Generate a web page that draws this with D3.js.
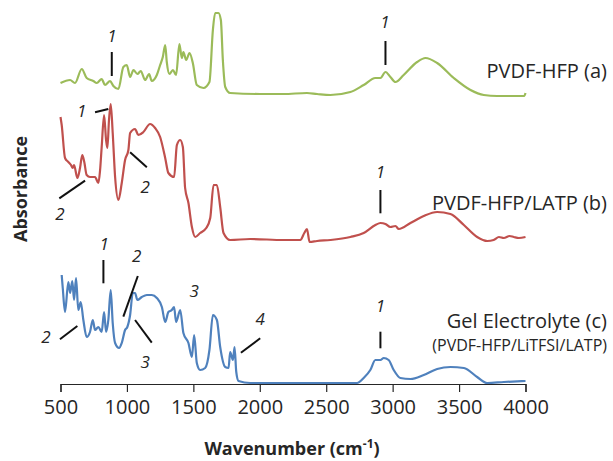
<!DOCTYPE html>
<html>
<head>
<meta charset="utf-8">
<script src="https://cdn.jsdelivr.net/npm/d3@7"></script>
<style>
  body { margin: 0; background: #fff; }
  text { font-family: "Open Sans", sans-serif; fill: #262626; }
</style>
</head>
<body>
<div id="chart"></div>
<script>
// wavenumber (cm-1) and absorbance (relative to each trace's own baseline)
var wnA = [500,572,609,660,697,747,773,810,835,873,898,936,973,999,1024,1049,1079,1104,1137,1167,1187,1225,1250,1270,1288,1300,1320,1346,1370,1395,1413,1425,1446,1471,1496,1526,1576,1621,1647,1664,1689,1707,1722,1740,1777,2000,2179,2355,2431,2531,2682,2782,2870,2908,2946,2983,3021,3083,3184,3247,3335,3460,3586,3686,3787,3990,4000];
var absA = [0.13,0.16,0.13,0.27,0.18,0.15,0.13,0.17,0.11,0.15,0.10,0.07,0.29,0.31,0.19,0.26,0.22,0.25,0.16,0.22,0.15,0.21,0.31,0.39,0.51,0.34,0.22,0.26,0.21,0.52,0.38,0.44,0.36,0.43,0.33,0.11,0.08,0.14,0.66,0.83,0.83,0.76,0.36,0.09,0.03,0.02,0.02,0.03,0.02,0.01,0.04,0.11,0.18,0.18,0.24,0.19,0.14,0.21,0.34,0.38,0.33,0.18,0.06,0.01,0.00,0.00,0.03];

var wnB = [500,509,534,559,579,592,602,627,647,664,679,697,722,760,785,798,810,828,843,853,865,878,893,911,936,961,986,1011,1024,1061,1086,1124,1174,1212,1250,1288,1312,1355,1376,1401,1421,1438,1463,1489,1514,1551,1597,1627,1652,1677,1702,1727,1777,1928,2179,2305,2335,2355,2375,2431,2531,2682,2782,2870,2908,2946,2983,3021,3046,3134,3234,3335,3435,3536,3636,3712,3760,3800,3837,3880,3912,3950,4000];
var absB = [1.23,1.15,0.82,0.78,0.75,0.72,0.75,0.62,0.72,0.85,0.78,0.65,0.63,0.63,0.57,0.70,0.93,1.25,1.00,0.92,1.20,1.36,1.07,0.63,0.40,0.57,0.80,0.90,1.07,1.11,1.05,1.08,1.16,1.12,1.03,0.82,0.67,0.63,0.95,1.00,0.93,0.52,0.37,0.13,0.03,0.07,0.12,0.22,0.55,0.55,0.33,0.07,0.00,0.01,0.00,0.00,0.07,0.11,-0.02,-0.01,0.00,0.03,0.07,0.15,0.17,0.16,0.13,0.14,0.11,0.17,0.24,0.28,0.26,0.15,0.03,-0.01,0.00,0.03,0.02,0.04,0.03,0.02,0.03];

var wnC = [509,517,534,559,572,589,602,617,634,652,672,697,722,743,760,785,810,828,843,860,878,893,911,941,961,986,1003,1024,1044,1061,1079,1112,1150,1187,1225,1263,1288,1312,1338,1355,1370,1401,1425,1463,1489,1506,1526,1551,1589,1621,1647,1677,1702,1740,1765,1777,1798,1810,1823,1840,1928,2179,2431,2732,2782,2832,2870,2908,2933,2970,3008,3058,3134,3234,3335,3435,3536,3636,3712,3837,4000];
var absC = [1.09,0.96,0.72,1.02,0.91,1.03,0.84,1.06,0.74,0.82,0.64,0.47,0.52,0.64,0.54,0.57,0.52,0.72,0.52,0.64,0.94,0.61,0.41,0.36,0.41,0.54,0.57,0.69,0.91,0.91,0.84,0.87,0.89,0.89,0.86,0.77,0.62,0.72,0.74,0.77,0.62,0.74,0.51,0.41,0.27,0.49,0.21,0.14,0.16,0.34,0.69,0.64,0.37,0.17,0.16,0.32,0.24,0.37,0.12,0.03,0.01,0.01,0.01,0.01,0.06,0.14,0.24,0.24,0.26,0.24,0.14,0.06,0.05,0.09,0.15,0.17,0.16,0.07,0.01,0.02,0.03];

var offsets = [2.88, 1.44, 0];
var colors = ["#9bbb59", "#c0504d", "#4f81bd"];
var xTicks = [500,1000,1500,2000,2500,3000,3500,4000];

// peak labels: text position + leader line, in wavenumber / stacked absorbance
var notes = [
  {t:"1", tx:888, ty:3.49, x1:886, y1:3.32, x2:886, y2:3.08},
  {t:"1", tx:2942, ty:3.63, x1:2946, y1:3.43, x2:2946, y2:3.19},
  {t:"1", tx:660, ty:2.74, x1:760, y1:2.717, x2:860, y2:2.75},
  {t:"2", tx:496, ty:1.71, x1:491, y1:1.857, x2:685, y2:2.033},
  {t:"2", tx:1137, ty:1.98, x1:1024, y1:2.317, x2:1150, y2:2.167},
  {t:"1", tx:2908, ty:2.13, x1:2908, y1:1.94, x2:2908, y2:1.707},
  {t:"1", tx:828, ty:1.407, x1:823, y1:1.24, x2:823, y2:1.007},
  {t:"2", tx:1073, ty:1.29, x1:1082, y1:1.08, x2:973, y2:0.673},
  {t:"2", tx:391, ty:0.48, x1:496, y1:0.447, x2:627, y2:0.58},
  {t:"3", tx:1137, ty:0.223, x1:1061, y1:0.64, x2:1187, y2:0.413},
  {t:"3", tx:1506, ty:0.94},
  {t:"4", tx:2003, ty:0.657, x1:1858, y1:0.313, x2:2003, y2:0.457},
  {t:"1", tx:2908, ty:0.79, x1:2908, y1:0.523, x2:2908, y2:0.357}
];

var svgWidth = 613, svgHeight = 461;
var svg = d3.select("#chart").append("svg")
    .attr("width", svgWidth)
    .attr("height", svgHeight);

var x = d3.scaleLinear().domain([500, 4000]).range([60.5, 525.5]);
var y = d3.scaleLinear().domain([0, 3.84]).range([384, 0]);

var series = [[wnA, absA], [wnB, absB], [wnC, absC]];
var line = d3.line().curve(d3.curveMonotoneX).x(d => x(d[0])).y(d => y(d[1]));

series.forEach(function(s, i) {
  var pts = s[0].map((w, j) => [w, s[1][j] + offsets[i]]);
  svg.append("path")
    .datum(pts)
    .attr("d", line)
    .attr("fill", "none")
    .attr("stroke", colors[i])
    .attr("stroke-width", 2.2)
    .attr("stroke-linejoin", "round");
});

// x axis
var xAxis = svg.append("g")
  .attr("transform", "translate(0,384)")
  .call(d3.axisBottom(x).tickValues(xTicks).tickSize(8).tickPadding(8).tickFormat(d3.format("d")));
xAxis.select(".domain").attr("stroke", "#262626").attr("stroke-width", 1.2);
xAxis.selectAll(".tick line").attr("stroke", "#262626").attr("stroke-width", 1.2);
xAxis.selectAll("text").style("font-size", "20px").attr("fill", "#262626");

// annotations
notes.forEach(function(n) {
  if (n.x1 !== undefined) {
    svg.append("line")
      .attr("x1", x(n.x1)).attr("y1", y(n.y1))
      .attr("x2", x(n.x2)).attr("y2", y(n.y2))
      .attr("stroke", "#111").attr("stroke-width", 2);
  }
  svg.append("text")
    .attr("x", x(n.tx)).attr("y", y(n.ty))
    .attr("text-anchor", "middle")
    .attr("dominant-baseline", "central")
    .style("font-size", "17px")
    .style("font-style", "italic")
    .text(n.t);
});

// series labels
var labels = [
  {t:"PVDF-HFP (a)", y:70, s:20},
  {t:"PVDF-HFP/LATP (b)", y:202, s:20},
  {t:"Gel Electrolyte (c)", y:320, s:20},
  {t:"(PVDF-HFP/LiTFSI/LATP)", y:345, s:16}
];
labels.forEach(function(l) {
  svg.append("text")
    .attr("x", 607).attr("y", l.y)
    .attr("text-anchor", "end")
    .attr("dominant-baseline", "central")
    .style("font-size", l.s + "px")
    .text(l.t);
});

// axis titles
var xt = svg.append("text")
  .attr("x", 292).attr("y", 455)
  .attr("text-anchor", "middle")
  .style("font-size", "18px")
  .style("font-weight", "bold");
xt.append("tspan").text("Wavenumber (cm");
xt.append("tspan").attr("dy", -7).style("font-size", "12px").text("-1");
xt.append("tspan").attr("dy", 7).text(")");

svg.append("text")
  .attr("transform", "translate(27,189) rotate(-90)")
  .attr("text-anchor", "middle")
  .style("font-size", "18px")
  .style("font-weight", "bold")
  .text("Absorbance");
</script>
</body>
</html>
